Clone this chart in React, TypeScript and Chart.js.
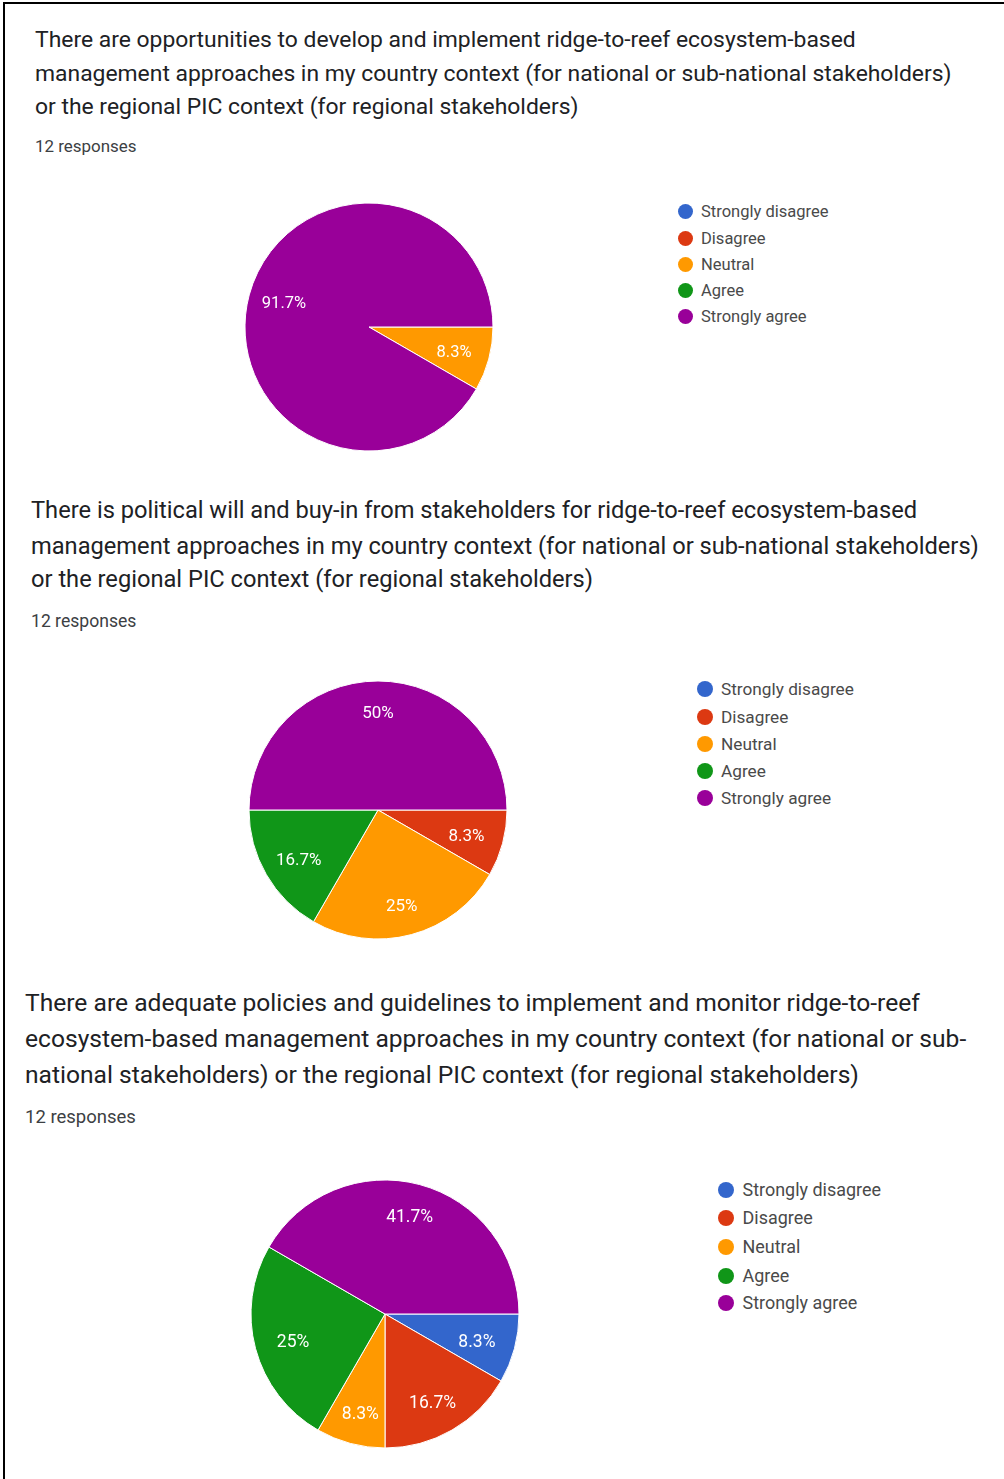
import React, { useEffect, useRef } from "react";
import { Chart, registerables } from "chart.js";

Chart.register(...registerables);

// ---------------- data ----------------
const categories = ["Strongly disagree", "Disagree", "Neutral", "Agree", "Strongly agree"];
const sliceColors = ["#3366CC", "#DC3912", "#FF9900", "#109618", "#990099"];
const responsesLabel = "12 responses";

const q1Title = [
  "There are opportunities to develop and implement ridge-to-reef ecosystem-based",
  "management approaches in my country context (for national or sub-national stakeholders)",
  "or the regional PIC context (for regional stakeholders)",
];
const q1Counts = [0, 0, 1, 0, 11];

const q2Title = [
  "There is political will and buy-in from stakeholders for ridge-to-reef ecosystem-based",
  "management approaches in my country context (for national or sub-national stakeholders)",
  "or the regional PIC context (for regional stakeholders)",
];
const q2Counts = [0, 1, 3, 2, 6];

const q3Title = [
  "There are adequate policies and guidelines to implement and monitor ridge-to-reef",
  "ecosystem-based management approaches in my country context (for national or sub-",
  "national stakeholders) or the regional PIC context (for regional stakeholders)",
];
const q3Counts = [1, 2, 1, 3, 5];

// ---------------- layout (positions / sizes only) ----------------
type Layout = {
  titleX: number;
  titleBaselines: number[];
  titleEnds: number[];
  respBaseline: number;
  respEnd: number;
  cx: number;
  cy: number;
  r: number;
  dotX: number;
  dotD: number;
  textX: number;
  rows: number[];
  legendEnd: number;
  labelSize: number;
};

const layoutQ1: Layout = {
  titleX: 35, titleBaselines: [47, 80.5, 114], titleEnds: [869, 945, 573],
  respBaseline: 151.5, respEnd: 136.5,
  cx: 368.5, cy: 327, r: 124,
  dotX: 685, dotD: 15, textX: 701, rows: [211.5, 238, 264, 290.5, 316.5], legendEnd: 828.5,
  labelSize: 16.5,
};
const layoutQ2: Layout = {
  titleX: 31, titleBaselines: [518, 553.5, 586.5], titleEnds: [927, 975, 589],
  respBaseline: 627, respEnd: 136.5,
  cx: 377.5, cy: 809.5, r: 129,
  dotX: 705, dotD: 16, textX: 721, rows: [689, 717, 744, 771, 797.5], legendEnd: 854,
  labelSize: 17,
};
const layoutQ3: Layout = {
  titleX: 25, titleBaselines: [1011.5, 1047, 1083], titleEnds: [927, 969, 850],
  respBaseline: 1123, respEnd: 136,
  cx: 385, cy: 1314, r: 134,
  dotX: 726, dotD: 16, textX: 742.5, rows: [1190, 1218, 1247, 1275.5, 1303], legendEnd: 881,
  labelSize: 17.5,
};

const FONT = "Roboto";
const TITLE_COLOR = "#202124";
const SUB_COLOR = "#3c4043";
const LEGEND_COLOR = "#4a4a4a";
const LABEL_RX = 0.71;
const LABEL_RY = 0.76;

// ---------------- text helpers ----------------
const measureCanvas = typeof document !== "undefined" ? document.createElement("canvas") : null;
const mctx = measureCanvas ? measureCanvas.getContext("2d")! : null;

function measureWidth(text: string, size: number) {
  mctx!.font = `${size}px ${FONT}`;
  return mctx!.measureText(text).width;
}
function fontBox(size: number) {
  mctx!.font = `${size}px ${FONT}`;
  const m = mctx!.measureText("Hg");
  return { A: m.fontBoundingBoxAscent, D: m.fontBoundingBoxDescent };
}
function fitSize(lines: string[], x: number, ends: number[]) {
  let target = 0;
  let natural = 0;
  lines.forEach((l, i) => {
    target += ends[i] - x;
    natural += measureWidth(l, 100);
  });
  return (100 * target) / natural;
}

function TextLine(props: { text: string; x: number; baseline: number; size: number; color: string }) {
  const { text, x, baseline, size, color } = props;
  const { A, D } = fontBox(size);
  const L = Math.ceil(size * 1.6);
  const top = baseline - ((L - (A + D)) / 2 + A);
  return (
    <div
      style={{
        position: "absolute",
        left: x,
        top,
        fontFamily: FONT,
        fontSize: size,
        lineHeight: `${L}px`,
        height: L,
        color,
        whiteSpace: "nowrap",
      }}
    >
      {text}
    </div>
  );
}

// ---------------- pie ----------------
function makeLabelPlugin(fontSize: number) {
  return {
    id: "sliceLabels",
    afterDatasetsDraw(chart: any) {
      const meta = chart.getDatasetMeta(0);
      const data = chart.data.datasets[0].data as number[];
      const total = data.reduce((a, b) => a + b, 0);
      const ctx = chart.ctx as CanvasRenderingContext2D;
      ctx.save();
      ctx.fillStyle = "#ffffff";
      ctx.font = `${fontSize}px ${FONT}`;
      ctx.textAlign = "center";
      ctx.textBaseline = "alphabetic";
      meta.data.forEach((arc: any, i: number) => {
        const v = data[i];
        if (!v) return;
        const p = arc.getProps(["x", "y", "startAngle", "endAngle", "outerRadius"], true);
        const mid = (p.startAngle + p.endAngle) / 2;
        let s = ((v / total) * 100).toFixed(1);
        if (s.endsWith(".0")) s = s.slice(0, -2);
        ctx.fillText(
          s + "%",
          p.x + Math.cos(mid) * p.outerRadius * LABEL_RX,
          p.y + Math.sin(mid) * p.outerRadius * LABEL_RY + fontSize * 0.355
        );
      });
      ctx.restore();
    },
  };
}

function PieChart(props: { counts: number[]; layout: Layout }) {
  const { counts, layout } = props;
  const ref = useRef<HTMLCanvasElement>(null);
  const pad = 4;
  const size = Math.round(2 * (layout.r + pad));
  useEffect(() => {
    const chart = new Chart(ref.current!, {
      type: "pie",
      data: {
        labels: categories,
        datasets: [
          {
            data: counts,
            backgroundColor: sliceColors,
            borderColor: "#ffffff",
            borderWidth: 1,
            radius: layout.r,
          } as any,
        ],
      },
      options: {
        responsive: false,
        animation: false,
        rotation: 90,
        layout: { padding: 0 },
        events: [],
        plugins: { legend: { display: false }, tooltip: { enabled: false } },
      },
      plugins: [makeLabelPlugin(layout.labelSize)],
    });
    return () => chart.destroy();
  }, []);
  return (
    <canvas
      ref={ref}
      width={size}
      height={size}
      style={{
        position: "absolute",
        left: layout.cx - size / 2,
        top: layout.cy - size / 2,
        width: size,
        height: size,
      }}
    />
  );
}

function Legend(props: { layout: Layout }) {
  const { layout } = props;
  const size = (100 * (layout.legendEnd - layout.textX)) / measureWidth(categories[0], 100);
  return (
    <>
      {categories.map((c, i) => (
        <React.Fragment key={c}>
          <div
            style={{
              position: "absolute",
              left: layout.dotX - layout.dotD / 2,
              top: layout.rows[i] - layout.dotD / 2,
              width: layout.dotD,
              height: layout.dotD,
              borderRadius: "50%",
              background: sliceColors[i],
            }}
          />
          <TextLine text={c} x={layout.textX} baseline={layout.rows[i] + size * 0.355} size={size} color={LEGEND_COLOR} />
        </React.Fragment>
      ))}
    </>
  );
}

function Question(props: { title: string[]; counts: number[]; layout: Layout }) {
  const { title, counts, layout } = props;
  const tSize = fitSize(title, layout.titleX, layout.titleEnds);
  const rSize = (100 * (layout.respEnd - layout.titleX)) / measureWidth(responsesLabel, 100);
  return (
    <>
      {title.map((line, i) => (
        <TextLine key={i} text={line} x={layout.titleX} baseline={layout.titleBaselines[i]} size={tSize} color={TITLE_COLOR} />
      ))}
      <TextLine text={responsesLabel} x={layout.titleX} baseline={layout.respBaseline} size={rSize} color={SUB_COLOR} />
      <PieChart counts={counts} layout={layout} />
      <Legend layout={layout} />
    </>
  );
}

export default function App() {
  return (
    <div
      style={{
        position: "absolute",
        left: 0,
        top: 0,
        width: 1004,
        height: 1479,
        background: "#ffffff",
        overflow: "hidden",
      }}
    >
      <div
        style={{
          position: "absolute",
          left: 3,
          top: 2,
          right: 0,
          bottom: 0,
          borderTop: "2px solid #000",
          borderLeft: "2px solid #000",
        }}
      />
      <Question title={q1Title} counts={q1Counts} layout={layoutQ1} />
      <Question title={q2Title} counts={q2Counts} layout={layoutQ2} />
      <Question title={q3Title} counts={q3Counts} layout={layoutQ3} />
    </div>
  );
}
